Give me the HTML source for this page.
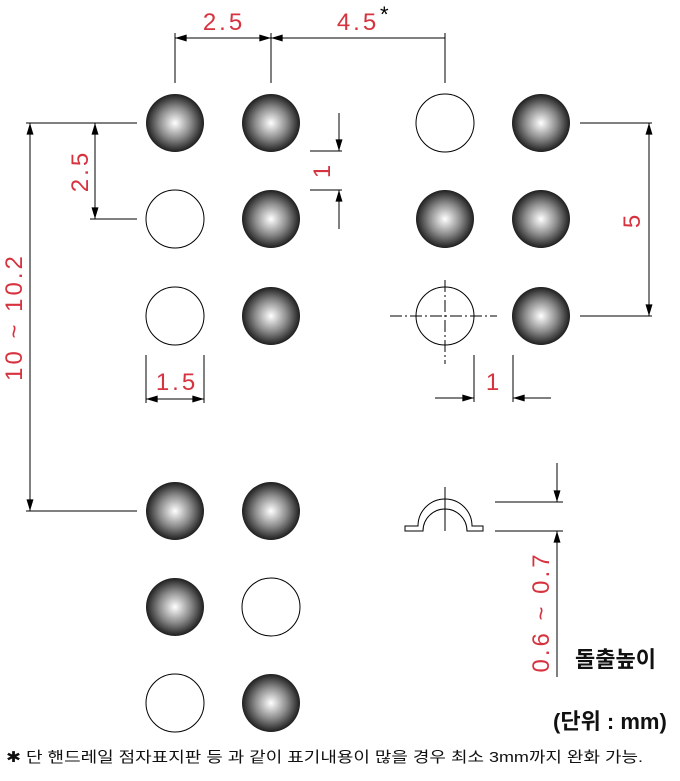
<!DOCTYPE html>
<html><head><meta charset="utf-8"><style>
body{margin:0;background:#fff;width:680px;height:776px;overflow:hidden}
text{font-family:"Liberation Sans","Noto Sans CJK KR",sans-serif}
.r{fill:#d6333f;font-size:24px;letter-spacing:3px}
</style></head><body>
<svg width="680" height="776" viewBox="0 0 680 776" xmlns="http://www.w3.org/2000/svg">
<defs>
<radialGradient id="g" cx="0.5" cy="0.5" r="0.5"><stop offset="0" stop-color="#fff"/><stop offset="0.55" stop-color="#8a8a8a"/><stop offset="1" stop-color="#1e1e1e"/></radialGradient>
<marker id="a" viewBox="0 0 10 6" refX="10" refY="3" markerWidth="18" markerHeight="7" markerUnits="userSpaceOnUse" orient="auto-start-reverse"><path d="M0,0L10,3L0,6z" fill="#000"/></marker>
</defs>
<g stroke="#000" stroke-width="1" fill="none">
<line x1="175" y1="33" x2="175" y2="83"/><line x1="271" y1="33" x2="271" y2="83"/><line x1="445" y1="33" x2="445" y2="83"/>
<line x1="175" y1="38" x2="271" y2="38" marker-start="url(#a)" marker-end="url(#a)"/>
<line x1="271" y1="38" x2="445" y2="38" marker-start="url(#a)"/>
<line x1="90" y1="219" x2="137" y2="219"/>
<line x1="95" y1="123" x2="95" y2="219" marker-start="url(#a)" marker-end="url(#a)"/>
<line x1="26" y1="123" x2="137" y2="123"/><line x1="26" y1="511" x2="137" y2="511"/>
<line x1="30" y1="123" x2="30" y2="511" marker-start="url(#a)" marker-end="url(#a)"/>
<line x1="310" y1="151" x2="342" y2="151"/><line x1="310" y1="190" x2="342" y2="190"/>
<line x1="339" y1="113" x2="339" y2="151" marker-end="url(#a)"/>
<line x1="339" y1="229" x2="339" y2="190" marker-end="url(#a)"/>
<line x1="146" y1="355" x2="146" y2="403"/><line x1="204" y1="355" x2="204" y2="403"/>
<line x1="146" y1="399" x2="204" y2="399" marker-start="url(#a)" marker-end="url(#a)"/>
<line x1="580" y1="123" x2="652" y2="123"/><line x1="580" y1="316" x2="652" y2="316"/>
<line x1="649" y1="123" x2="649" y2="316" marker-start="url(#a)" marker-end="url(#a)"/>
<line x1="474" y1="355" x2="474" y2="402"/><line x1="513" y1="355" x2="513" y2="402"/>
<line x1="435" y1="398" x2="474" y2="398" marker-end="url(#a)"/>
<line x1="551" y1="398" x2="513" y2="398" marker-end="url(#a)"/>
<line x1="390" y1="316" x2="497" y2="316" stroke-dasharray="12,3,2,3"/>
<line x1="445" y1="280" x2="445" y2="364" stroke-dasharray="12,3,2,3"/>
<circle cx="175" cy="219" r="29"/><circle cx="175" cy="316" r="29"/>
<circle cx="445" cy="123" r="29"/><circle cx="445" cy="316" r="29"/>
<circle cx="271" cy="607" r="29"/><circle cx="175" cy="703" r="29"/>
<path d="M405,531 L405,526 L418,526 A27,27 0 0 1 472,526 L483,526 L483,531 L467,531 A22,22 0 0 0 423,531 Z"/>
<line x1="445" y1="487" x2="445" y2="531"/>
<line x1="495" y1="502" x2="563" y2="502"/><line x1="495" y1="531" x2="563" y2="531"/>
<line x1="557" y1="463" x2="557" y2="502" marker-end="url(#a)"/>
<line x1="557" y1="677" x2="557" y2="531" marker-end="url(#a)"/>
</g>
<g fill="url(#g)">
<circle cx="175" cy="123" r="29"/><circle cx="271" cy="123" r="29"/>
<circle cx="271" cy="219" r="29"/><circle cx="271" cy="316" r="29"/>
<circle cx="541" cy="123" r="29"/><circle cx="445" cy="219" r="29"/>
<circle cx="541" cy="219" r="29"/><circle cx="541" cy="316" r="29"/>
<circle cx="175" cy="511" r="29"/><circle cx="271" cy="511" r="29"/>
<circle cx="175" cy="607" r="29"/><circle cx="271" cy="703" r="29"/>
</g>
<text class="r" x="224" y="30" text-anchor="middle">2.5</text>
<text class="r" x="358" y="30" text-anchor="middle">4.5</text>
<text x="380" y="22" font-size="22" fill="#000">*</text>
<text class="r" transform="translate(88,171) rotate(-90)" text-anchor="middle">2.5</text>
<text class="r" transform="translate(22,317) rotate(-90)" text-anchor="middle">10 ~ 10.2</text>
<text class="r" transform="translate(330,170) rotate(-90)" text-anchor="middle">1</text>
<text class="r" x="177" y="390" text-anchor="middle">1.5</text>
<text class="r" x="494" y="390" text-anchor="middle">1</text>
<text class="r" transform="translate(640,220) rotate(-90)" text-anchor="middle">5</text>
<text class="r" transform="translate(549,612) rotate(-90)" text-anchor="middle">0.6 ~ 0.7</text>
<text x="575" y="667" font-size="22" font-weight="bold" fill="#111">돌출높이</text>
<text x="553" y="729" font-size="22" font-weight="bold" fill="#111">(단위 : mm)</text>
<text x="6" y="762" font-size="15" fill="#111" textLength="637" lengthAdjust="spacingAndGlyphs">✱ 단 핸드레일 점자표지판 등 과 같이 표기내용이 많을 경우 최소 3mm까지 완화 가능.</text>
</svg>
</body></html>
